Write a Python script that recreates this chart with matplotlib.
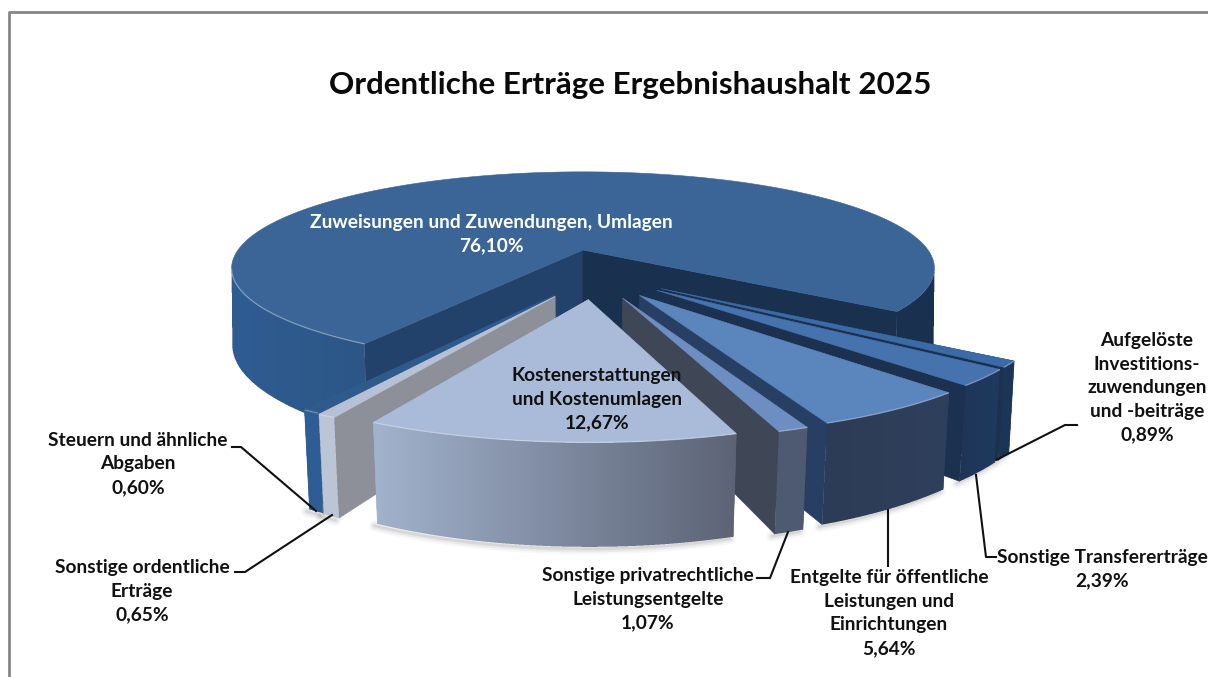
import numpy as np
import matplotlib
matplotlib.use('Agg')
import matplotlib.pyplot as plt
from matplotlib.colors import to_rgb
from matplotlib.patches import Polygon
from matplotlib.path import Path

title = 'Ordentliche Erträge Ergebnishaushalt 2025'

# clockwise, starting at the cut on the front left of the big slice
names = ['Zuweisungen und Zuwendungen, Umlagen',
         'Aufgelöste\nInvestitions-\nzuwendungen\nund -beiträge',
         'Sonstige Transfererträge',
         'Entgelte für öffentliche\nLeistungen und\nEinrichtungen',
         'Sonstige privatrechtliche\nLeistungsentgelte',
         'Kostenerstattungen\nund Kostenumlagen',
         'Sonstige ordentliche\nErträge',
         'Steuern und ähnliche\nAbgaben']
values = [76.10, 0.89, 2.39, 5.64, 1.07, 12.67, 0.65, 0.60]

# layout of the exploded slices, in units of the pie radius
explode_u = [0, .21, .197, .15, .105, .014, -.074, -.077]
explode_v = [0, -.385, -.40, -.447, -.472, -.485, -.456, -.449]

top_col = ['#3a6596', '#3b6ba6', '#4673ae', '#5a85bd', '#6c8ec2', '#a9bbd8', '#b7c1d6', '#2f5a8c']
wall_col = [('#2f5c92', '#2c5686'), ('#1c3557', '#1c3557'), ('#1e3557', '#1f3a5e'),
            ('#2c3c56', '#2f405c'), ('#4e5a72', '#4e5a72'), ('#a2b3cd', '#5c6375'),
            ('#bcc5d6', '#bcc5d6'), ('#2e5c95', '#2e5c95')]
# cut face at the first and at the last edge of each slice
cut_col = [('#23426b', '#1a304f'), ('#1c3050', '#1c3050'), ('#1c3050', '#1c3050'),
           ('#263f63', '#263f63'), ('#3f4655', '#3f4655'), ('#5c6375', '#a2b3cd'),
           ('#8d9098', '#8d9098'), ('#2e5c95', '#2e5c95')]
draw_order = [0, 1, 2, 3, 4, 7, 6, 5]

# camera fitted to the picture
cx, cy = 583, 250
R, A, k = 345, 93, .19
H = 75
start_angle = 212.1


def top_pts(u, v):
    s = 1 / (1 + k * v)
    return np.column_stack([cx + R * u * s, cy - A * v * s])


def bottom_pts(u, v):
    s = 1 / (1 + k * v)
    x = cx + R * u * s
    return np.column_stack([cx + (x - cx) * (1 - .055 * (s - 1)), cy - A * v * s + H * s])


def gradient_poly(pts, c1, c2, zorder, ss=3):
    # left to right gradient, coverage worked out on a finer grid
    x0, x1 = int(np.floor(pts[:, 0].min())), int(np.ceil(pts[:, 0].max()))
    y0, y1 = int(np.floor(pts[:, 1].min())), int(np.ceil(pts[:, 1].max()))
    nx, ny = x1 - x0, y1 - y0
    gx = x0 + (np.arange(nx * ss) + .5) / ss
    gy = y0 + (np.arange(ny * ss) + .5) / ss
    xx, yy = np.meshgrid(gx, gy)
    inside = Path(pts).contains_points(np.column_stack([xx.ravel(), yy.ravel()]))
    alpha = inside.reshape(ny, ss, nx, ss).mean(axis=(1, 3))
    t = (np.arange(nx) + .5) / nx
    c1, c2 = np.array(to_rgb(c1)), np.array(to_rgb(c2))
    img = np.zeros((ny, nx, 4))
    img[:, :, :3] = (c1 + (c2 - c1) * t[:, None])[None, :, :]
    img[:, :, 3] = alpha
    ax.imshow(img, extent=[x0, x1, y1, y0], aspect='auto', zorder=zorder, interpolation='nearest')


fig = plt.figure(figsize=(12.08, 6.77), dpi=100)
ax = fig.add_axes([0, 0, 1, 1])
ax.axis('off')

plt.rcParams['font.family'] = ['Lato', 'DejaVu Sans']

# frame of the chart area
ax.plot([8.5, 8.5, 1208], [677, 12, 12], color='#868686', lw=2, zorder=1)

total = sum(values)
edges = start_angle + np.cumsum([0] + values) / total * 360

z = 5
for i in draw_order:
    t0, t1 = np.radians(edges[i]), np.radians(edges[i + 1])
    du, dv = explode_u[i], explode_v[i]
    th = np.linspace(t0, t1, max(int((edges[i + 1] - edges[i]) * 2), 6))
    u = du + np.sin(th)
    v = dv + np.cos(th)
    # only this part of the arc faces the viewer, past it the wall folds back
    front = np.cos(th) < -k

    # soft shadow under the visible part of the wall
    if i != 0:
        b = bottom_pts(u[front], v[front])
        for w, a in zip([8, 5, 2], [.03, .05, .08]):
            ax.plot(b[:, 0] - 3, b[:, 1] + 2, color='k', alpha=a, lw=w, zorder=z, solid_capstyle='round')
    z += 1

    # cut faces
    ua, va = np.array([du]), np.array([dv])
    for uo, vo, col in [(u[0], v[0], cut_col[i][0]), (u[-1], v[-1], cut_col[i][1])]:
        uu, vv = np.array([du, uo]), np.array([dv, vo])
        p = np.vstack([top_pts(uu, vv), bottom_pts(uu, vv)[::-1]])
        ax.add_patch(Polygon(p, closed=True, fc=col, ec=col, lw=.4, zorder=z))
    z += 1

    # outer wall, the big slice has one piece left and one piece right
    pieces = [front]
    if i == 0:
        pieces = [front & (np.sin(th) < 0), front & (np.sin(th) > 0)]
    for m, mask in enumerate(pieces):
        p = np.vstack([top_pts(u[mask], v[mask]), bottom_pts(u[mask], v[mask])[::-1]])
        c1, c2 = wall_col[i]
        if i == 0 and m == 1:
            c1, c2 = '#1a304f', '#1a304f'
        gradient_poly(p, c1, c2, z)
    z += 1

    # top face with a thin light rim on the front of the arc
    pts_t = top_pts(u, v)
    apex = top_pts(ua, va)
    ax.add_patch(Polygon(np.vstack([apex, pts_t]), closed=True, fc=top_col[i], ec=top_col[i], lw=.4, zorder=z))
    z += 1
    rim = top_pts(u[front], v[front])
    if i == 0:
        rim = top_pts(u[front & (np.sin(th) < 0)], v[front & (np.sin(th) < 0)])
    ax.plot(rim[:, 0], rim[:, 1], color='w', alpha=.3, lw=1, zorder=z, solid_capstyle='butt')
    z += 1

# leader lines
leaders = [([232, 241, 316], [447, 447, 511]),
           ([235, 245, 332], [572, 572, 515]),
           ([757, 770, 788], [578, 578, 532]),
           ([888, 888], [510, 566]),
           ([976, 986, 996], [475, 557, 557]),
           ([996, 1065, 1077], [460, 425, 425])]
for lx, ly in leaders:
    ax.plot(lx, ly, color='#111111', lw=1.5, zorder=z)
z += 1


def pct(val):
    return f'{val:.2f}%'.replace('.', ',')


# centre of each label block
label_x = [491, 1147, 1102, 889, 648, 597, 142, 138]
label_y = [234, 388, 569, 613, 599, 399, 591, 464]
label_col = ['w', '#111111', '#111111', '#111111', '#111111', '#111111', '#111111', '#111111']
for i in range(len(names)):
    ax.text(label_x[i], label_y[i], names[i] + '\n' + pct(values[i]), ha='center', va='center',
            fontsize=13.8, fontweight='bold', color=label_col[i], linespacing=1.47, zorder=z)

ax.text(630, 85, title, ha='center', va='center', fontsize=22.6, fontweight='bold', color='#0a0a0a', zorder=z)

ax.set_xlim(0, 1208)
ax.set_ylim(677, 0)
fig.savefig('out.png', dpi=100)
